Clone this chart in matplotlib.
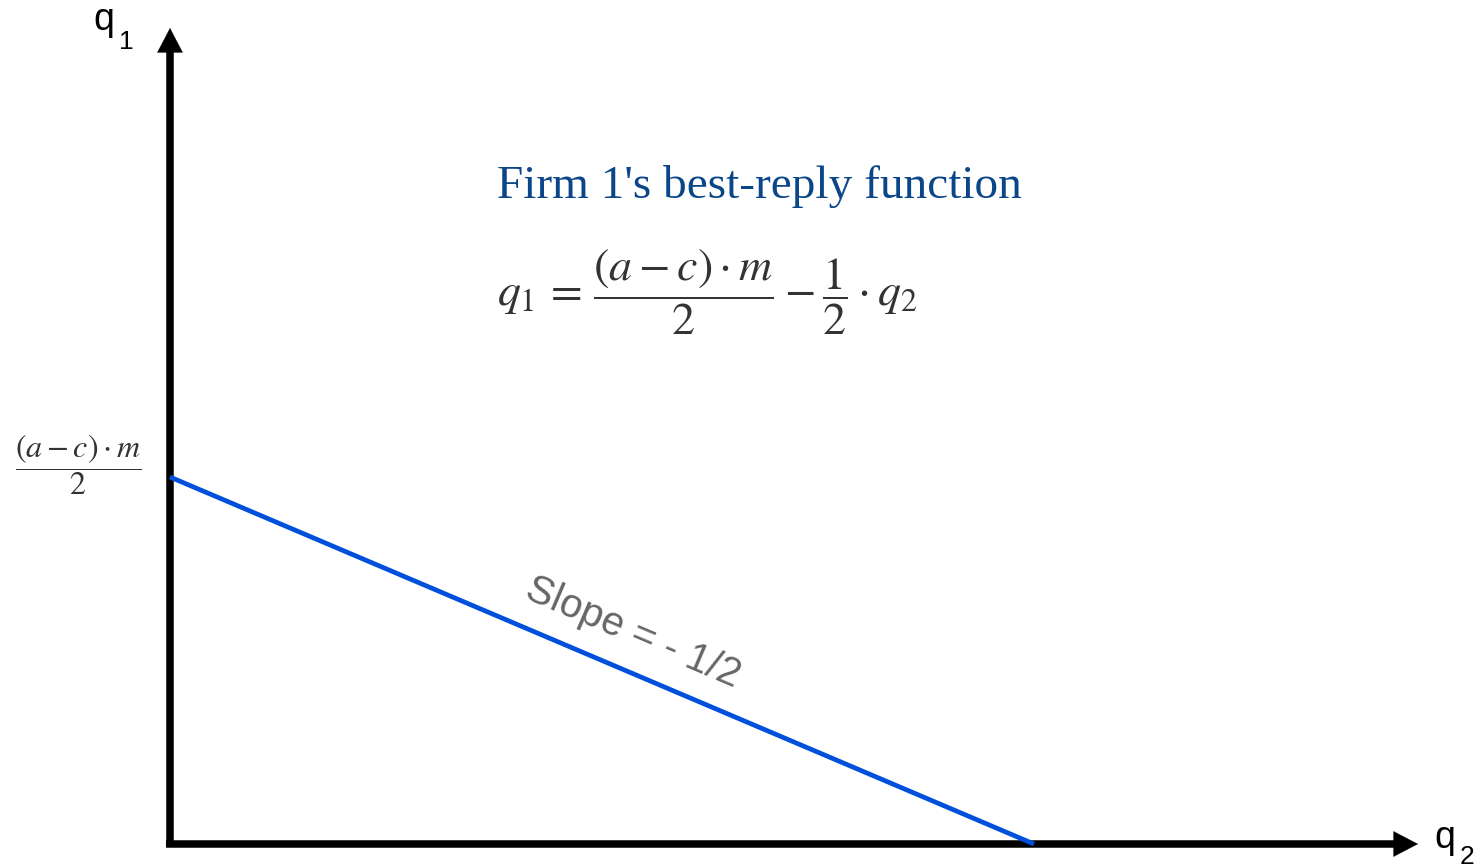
import matplotlib
matplotlib.use("Agg")
import matplotlib.pyplot as plt

# Data (model units): best-reply line q1 = A - q2/2
q1_intercept = 1.0          # (a-c)*m/2
slope = -0.5
q2_intercept = q1_intercept / -slope   # 2.0

title_text = "Firm 1's best-reply function"
equation = r"$q_1 \,=\, \dfrac{(a-c)\cdot m}{2} - \dfrac{1}{2}\cdot q_2$"
ytick_label = r"$\dfrac{(a-c)\cdot m}{2}$"
slope_label = "Slope = - 1/2"

W, H = 1483, 868
fig = plt.figure(figsize=(W / 100, H / 100), dpi=100)
ax = fig.add_axes([0, 0, 1, 1])

# pixel mapping: origin at (170, 844) from top-left; 432 px per q2 unit, 367 px per q1 unit
ox, oy = 170, 844
sx, sy = 432.0, 367.0
ax.set_xlim(-ox / sx, (W - ox) / sx)
ax.set_ylim(-(H - oy) / sy, oy / sy)
ax.axis("off")

def px(x, y):
    return ((x - ox) / sx, (oy - y) / sy)

# axis lines
ax.plot(*zip(px(170, 846), px(170, 45)), color="black", lw=5.4, solid_capstyle="butt")
ax.plot(*zip(px(166, 844), px(1400, 844)), color="black", lw=5.4, solid_capstyle="butt")
# arrowheads
head_kw = dict(arrowstyle="-|>,head_length=0.86,head_width=0.45", lw=0.3,
               color="black", mutation_scale=20, shrinkA=0, shrinkB=0)
ax.annotate("", xy=px(170, 28), xytext=px(170, 60), arrowprops=head_kw)
ax.annotate("", xy=px(1418, 844), xytext=px(1385, 844), arrowprops=head_kw)

# best-reply line
ax.plot([0, q2_intercept], [q1_intercept, 0], color="#0050dc", lw=3.4,
        solid_capstyle="butt", zorder=3)

# axis labels
ax.text(*px(93, 30), "q", fontsize=27, family="Liberation Sans", va="baseline", ha="left")
ax.text(*px(119, 49), "1", fontsize=19, family="Liberation Sans", va="baseline", ha="left")
ax.text(*px(1434, 848), "q", fontsize=27, family="Liberation Sans", va="baseline", ha="left")
ax.text(*px(1460, 864), "2", fontsize=19, family="Liberation Sans", va="baseline", ha="left")

# y tick label
ax.text(*px(78, 465), ytick_label, fontsize=23, math_fontfamily="stix",
        color="#333333", ha="center", va="center")

# title and equation
ax.text(*px(497, 198), title_text, fontsize=34, family="Liberation Serif",
        color="#0b4688", ha="left", va="baseline")
ax.text(*px(497, 292), equation, fontsize=33, math_fontfamily="stix",
        color="#333333", ha="left", va="center")

# slope label
ax.text(*px(633, 633), slope_label, fontsize=29, family="Liberation Sans",
        color="#666666", rotation=-23.1, rotation_mode="anchor",
        ha="center", va="center")

fig.savefig("out.png", dpi=100)
